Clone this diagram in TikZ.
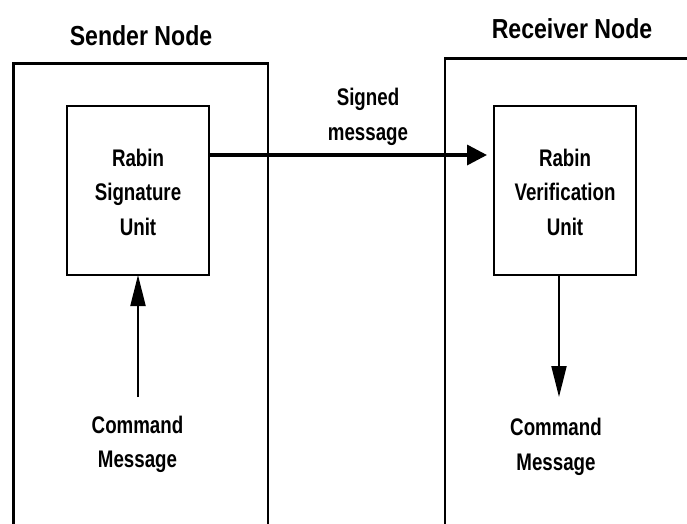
\documentclass[tikz,border=0pt]{standalone}
\usepackage{fontspec}
\setmainfont[FakeStretch=0.78]{Liberation Sans}
\newfontfamily\ttlfont[FakeStretch=0.84]{Liberation Sans}
\usetikzlibrary{arrows.meta}
\begin{document}
\begin{tikzpicture}[x=1pt,y=-1pt,
  outer/.style={line width=2.6pt},
  unitbox/.style={draw,line width=1.8pt},
  lbl/.style={font=\fontsize{24}{28}\selectfont\bfseries,anchor=base,inner sep=0pt},
  ttl/.style={font=\ttlfont\fontsize{27.5}{32}\selectfont\bfseries,anchor=base,inner sep=0pt},
  harr/.style={line width=3.5pt,-{Triangle[length=20pt,width=20pt]}},
  varr/.style={line width=2pt,-{Triangle[length=31pt,width=15pt]}}]
\useasboundingbox (0,0) rectangle (687,523);
% outer frames
\draw[outer] (13.5,530) -- (13.5,63.5) -- (268,63.5) -- (268,530);
\draw[outer] (445,530) -- (445,58.5) -- (695,58.5);
\node[ttl] (st) at (141,45) {Sender Node};
\node[ttl] (rt) at (572,38) {Receiver Node};
% units
\draw[unitbox] (67,106) rectangle (209,275);
\coordinate (suE) at (209,155);
\coordinate (suS) at (138,275);
\node[lbl] (s1) at (138,166) {Rabin};
\node[lbl] (s2) at (138,200.5) {Signature};
\node[lbl] (s3) at (138,235) {Unit};
\draw[unitbox] (494,106) rectangle (636,275);
\coordinate (ruW) at (487,155);
\coordinate (ruS) at (559,275);
\node[lbl] (r1) at (565,166) {Rabin};
\node[lbl] (r2) at (565,200.5) {Verification};
\node[lbl] (r3) at (565,235) {Unit};
% signed message
\draw[harr] (suE) -- (ruW);
\node[lbl] (m1) at (368,105) {Signed};
\node[lbl] (m2) at (368,140) {message};
% command messages
\coordinate (u0) at (138,397);
\draw[varr] (u0) -- (suS);
\node[lbl] (c1) at (137.5,433) {Command};
\node[lbl] (c2) at (137.5,467.5) {Message};
\coordinate (d1) at (559,397);
\draw[varr] (ruS) -- (d1);
\node[lbl] (c3) at (556,435) {Command};
\node[lbl] (c4) at (556,470) {Message};
\end{tikzpicture}
\end{document}
